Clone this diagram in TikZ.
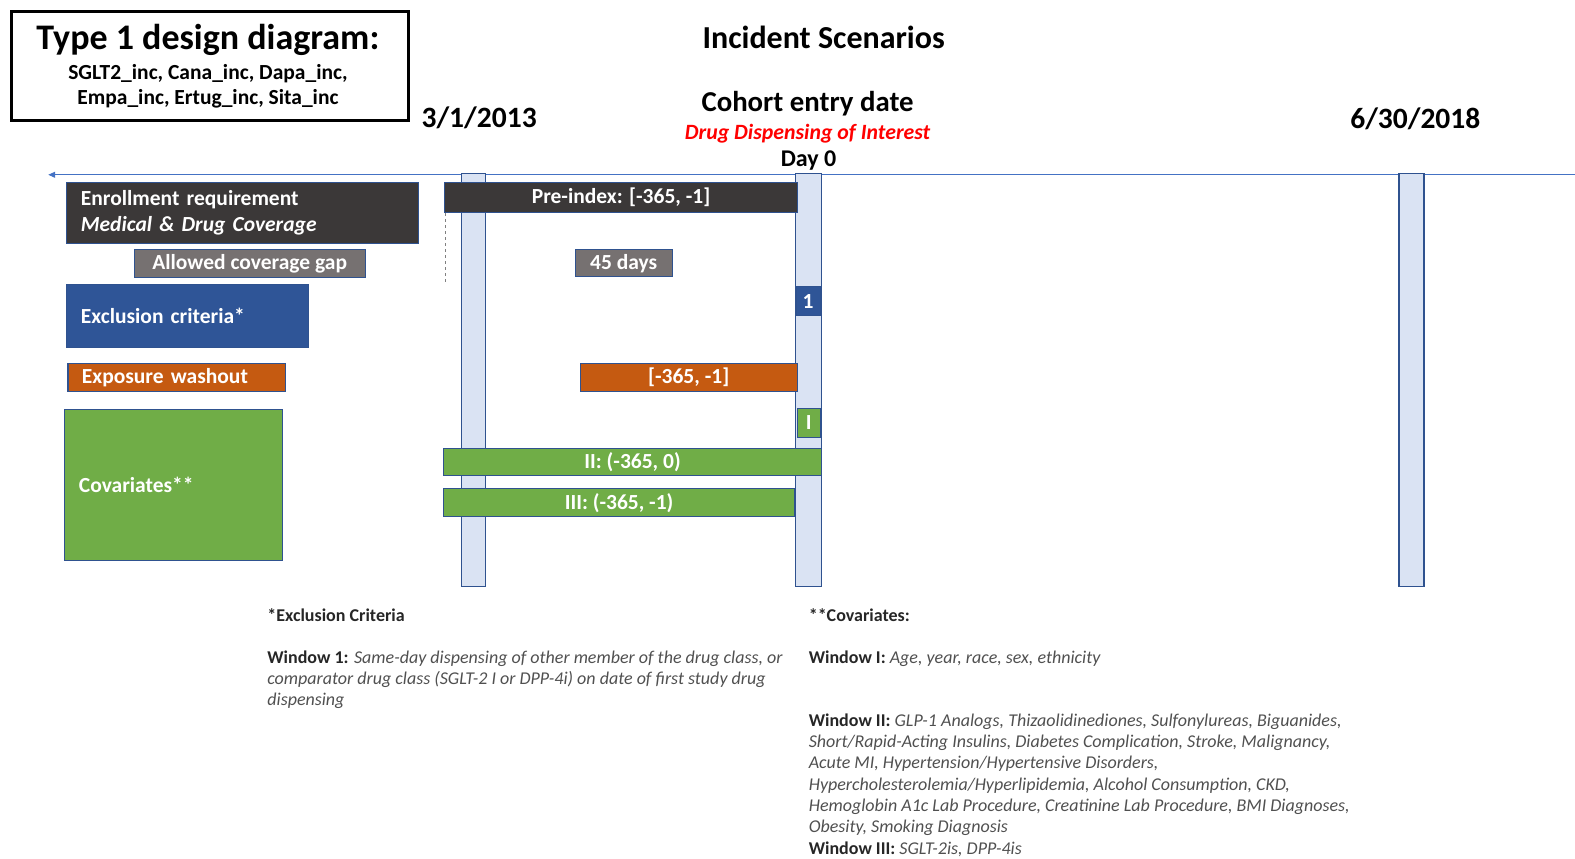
\documentclass[tikz,border=0pt]{standalone}
\usepackage{fontspec}
\setmainfont{Carlito}
\usepackage{xcolor}
\usetikzlibrary{arrows.meta}

\definecolor{darkbox}{HTML}{3B3838}
\definecolor{graybox}{HTML}{767171}
\definecolor{bluebox}{HTML}{2F5597}
\definecolor{orangebox}{HTML}{C55A11}
\definecolor{greenbox}{HTML}{70AD47}
\definecolor{edgeblue}{HTML}{2F528F}
\definecolor{barfill}{HTML}{DAE3F3}
\definecolor{lineblue}{HTML}{4472C4}
\definecolor{notegray}{HTML}{505050}

\newcommand{\fsz}[2]{\fontsize{#1pt}{#2pt}\selectfont}
\newcommand{\nit}[1]{\textit{\color{notegray}#1}}

\begin{document}
\begin{tikzpicture}[x=1.0045pt, y=-1.0045pt,
  box/.style={draw=edgeblue, line width=1.2pt, inner sep=0pt, anchor=north west,
    text=white, font=\bfseries\fsz{21.5}{25}},
  lbox/.style={box, align=left, inner xsep=14pt, text width=#1},
  bar/.style={draw=edgeblue, fill=barfill, line width=1.3pt, inner sep=0pt,
    anchor=north west, minimum width=24pt, minimum height=413pt},
  note/.style={anchor=north west, inner sep=0pt, align=left, text=black!85,
    font=\fsz{18}{21.3}}]
\useasboundingbox (0,0) rectangle (1568,855);

  \node[draw=black, line width=3pt, anchor=north west, inner sep=0pt,
    minimum width=397pt, minimum height=109pt] (design) at (10,10) {};
  \node[font=\bfseries\fsz{36}{42}] (designtitle) at (207,40) {Type 1 design diagram:};
  \node[font=\bfseries\fsz{21.5}{25}, align=center] (designlist) at (207,86)
    {SGLT2\_inc, Cana\_inc, Dapa\_inc,\\Empa\_inc, Ertug\_inc, Sita\_inc};

  \node[font=\bfseries\fsz{32}{38}] (incident) at (820,37) {Incident Scenarios};
  \node[font=\bfseries\fsz{29.5}{34}] (startdate) at (477,117) {3/1/2013};
  \node[font=\bfseries\fsz{29.5}{34}] (enddate) at (1409,118) {6/30/2018};
  \node[font=\bfseries\fsz{28.8}{34}] (cohort) at (804,103) {Cohort entry date};
  \node[font=\bfseries\itshape\fsz{21.8}{25}, text=red] (dispense) at (804,133) {Drug Dispensing of Interest};
  \node[font=\bfseries\fsz{24}{28}] (dayzero) at (805,160) {Day 0};

  \coordinate (tlend) at (1568,174);
  \coordinate (tlstart) at (48,174);
  \draw[lineblue, line width=1pt, -{Triangle[length=7pt,width=6pt]}] (tlend) -- (tlstart);

  \node[bar] (startbar) at (459,172) {};
  \node[bar, minimum width=26pt] (indexbar) at (791,172) {};
  \node[bar, minimum width=25pt] (endbar) at (1392,172) {};

  \node[lbox=324pt, fill=darkbox, minimum width=352pt, minimum height=61pt,
    font=\bfseries\fsz{21.5}{26}] (enroll) at (66,181)
    {Enrollment requirement\\\textit{Medical \& Drug Coverage}};
  \node[box, fill=graybox, minimum width=231pt, minimum height=28pt] (gap) at (133,248) {Allowed coverage gap};
  \node[box, fill=darkbox, minimum width=353pt, minimum height=30pt] (preindex) at (442,181) {Pre-index: [-365, -1]};
  \coordinate (gapmark) at (444,281);
  \draw[gray, dashed, line width=1pt] (preindex.south west -| gapmark) -- (gapmark);
  \node[box, fill=graybox, minimum width=97pt, minimum height=27pt] (gapdays) at (572,248) {45 days};

  \node[lbox=214pt, fill=bluebox, minimum width=242pt, minimum height=63pt] (excl) at (66,283) {Exclusion criteria*};
  \node[box, fill=bluebox, minimum width=24pt, minimum height=29pt] (winone) at (792,285) {1};

  \node[lbox=190pt, fill=orangebox, minimum width=218pt, minimum height=28pt] (washout) at (67,361) {Exposure washout};
  \node[box, fill=orangebox, minimum width=217pt, minimum height=28pt] (washwin) at (577,361) {[-365, -1]};

  \node[lbox=190pt, fill=greenbox, minimum width=218pt, minimum height=151pt] (covar) at (64,407) {Covariates**};
  \node[box, fill=greenbox, minimum width=23pt, minimum height=29pt] (wini) at (793,406) {I};
  \node[box, fill=greenbox, minimum width=378pt, minimum height=27pt] (winii) at (441,446) {II: (-365, 0)};
  \node[box, fill=greenbox, minimum width=351pt, minimum height=28pt] (winiii) at (441,486) {III: (-365, -1)};

  \node[note] (exclnote) at (266,606) {\textbf{*Exclusion Criteria}\\[20pt]
    \textbf{Window 1:} \nit{Same-day dispensing of other member of the drug class, or}\\
    \nit{comparator drug class (SGLT-2 I or DPP-4i) on date of first study drug}\\
    \nit{dispensing}};
  \node[note] (covarnote) at (805,606) {\textbf{**Covariates:}\\[20pt]
    \textbf{Window I:} \nit{Age, year, race, sex, ethnicity}\\[42pt]
    \textbf{Window II:} \nit{GLP-1 Analogs, Thizaolidinediones, Sulfonylureas, Biguanides,}\\
    \nit{Short/Rapid-Acting Insulins, Diabetes Complication, Stroke, Malignancy,}\\
    \nit{Acute MI, Hypertension/Hypertensive Disorders,}\\
    \nit{Hypercholesterolemia/Hyperlipidemia, Alcohol Consumption, CKD,}\\
    \nit{Hemoglobin A1c Lab Procedure, Creatinine Lab Procedure, BMI Diagnoses,}\\
    \nit{Obesity, Smoking Diagnosis}\\
    \textbf{Window III:} \nit{SGLT-2is, DPP-4is}};
\end{tikzpicture}
\end{document}
